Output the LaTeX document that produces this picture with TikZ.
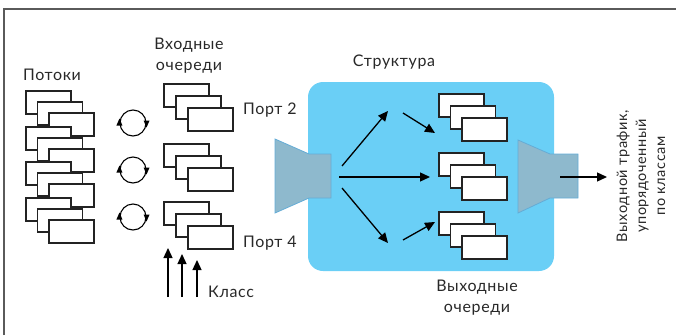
\documentclass[tikz,border=0pt]{standalone}
\usepackage{fontspec}
\setmainfont{Lato}[LetterSpace=4]
\usetikzlibrary{arrows.meta,calc}
\definecolor{panel}{RGB}{106,207,246}
\definecolor{funnelfill}{RGB}{142,185,205}
\definecolor{funneledge}{RGB}{100,172,214}
\definecolor{boxline}{RGB}{35,35,35}
\definecolor{frameline}{RGB}{90,90,90}
\definecolor{txt}{RGB}{40,40,40}

\tikzset{
  qbox/.style={draw=boxline, fill=white, line width=1.1pt, minimum width=45pt,
    minimum height=23pt, anchor=north west, inner sep=0pt, outer sep=0pt},
  flowarrow/.style={line width=1.3pt, draw=black,
    -{Triangle[length=10pt,width=9pt]}},
  cyclering/.style={circle, draw=black, line width=1.1pt, minimum size=26pt,
    inner sep=0pt},
  funnel/.style={fill=funnelfill, draw=funneledge, line width=0.8pt},
  lbl/.style={text=txt, inner sep=0pt, align=center}
}

% three overlapping queue boxes: name, x, y, step x, step y
\newcommand\boxtriple[5]{%
  \node[qbox] (#1a) at (#2,#3) {};
  \node[qbox] (#1b) at (#2+#4,#3+#5) {};
  \node[qbox] (#1c) at (#2+2*#4,#3+2*#5) {};
}

% a ring with a turning sense shown by two small heads
\newcommand\cyclemark[3]{%
  \node[cyclering] (#1) at (#2,#3) {};
  \fill (#1.west) ++(-3,2.5) -- ++(6,0) -- ++(-3,-7) -- cycle;
  \fill (#1.east) ++(-3,-2.5) -- ++(6,0) -- ++(-3,7) -- cycle;
}

\begin{document}
\begin{tikzpicture}[x=1pt, y=-1pt, font=\fontsize{16}{21}\selectfont]
\useasboundingbox (0,0) rectangle (676,335);

% outer frame (top and left edges)
\draw[frameline, line width=1.2pt] (4,335) -- (4,9) -- (676,9);

% incoming flows
\node[lbl] (flowtitle) at (52,75) {Потоки};
\boxtriple{fa}{26}{91}{11.5}{11}
\boxtriple{fb}{26}{127}{11.5}{11}
\boxtriple{fc}{26}{162}{11.5}{11}
\boxtriple{fd}{26}{198}{11.5}{11}

% scheduling rings
\cyclemark{ra}{133}{123}
\cyclemark{rb}{133}{170}
\cyclemark{rc}{133}{217}

% input queues
\node[lbl] (intitle) at (189,55.5) {Входные\\очереди};
\boxtriple{ia}{164}{84}{12}{12}
\boxtriple{ib}{164}{144}{12}{12}
\boxtriple{ic}{164}{202}{12}{12}
\node[lbl, anchor=west] (port2) at (243,110) {Порт 2};
\node[lbl, anchor=west] (port4) at (243,243) {Порт 4};

% class arrows
\coordinate (ka0) at (168,297); \coordinate (ka1) at (168,248);
\coordinate (kb0) at (182,297); \coordinate (kb1) at (182,254);
\coordinate (kc0) at (197,297); \coordinate (kc1) at (197,260);
\draw[flowarrow] (ka0) -- (ka1);
\draw[flowarrow] (kb0) -- (kb1);
\draw[flowarrow] (kc0) -- (kc1);
\node[lbl, anchor=west] (classlbl) at (208,292) {Класс};

% switching fabric
\node[lbl] (fabtitle) at (394,62) {Структура};
\fill[panel, rounded corners=15pt] (308,82) rectangle (554,271);
\draw[funnel] (275,139) -- (309,154) -- (331,154) -- (331,198) -- (309,198) -- (275,213) -- cycle;

\coordinate (s1) at (342,166); \coordinate (e1) at (388,111);
\coordinate (s2) at (339,177); \coordinate (e2) at (430,177);
\coordinate (s3) at (342,188); \coordinate (e3) at (388,243);
\coordinate (s4) at (403,113); \coordinate (e4) at (435,133);
\coordinate (s5) at (403,240); \coordinate (e5) at (435,222);
\draw[flowarrow] (s1) -- (e1);
\draw[flowarrow] (s2) -- (e2);
\draw[flowarrow] (s3) -- (e3);
\draw[flowarrow] (s4) -- (e4);
\draw[flowarrow] (s5) -- (e5);

% output queues
\boxtriple{oa}{439}{94}{11.5}{12}
\boxtriple{ob}{439}{153}{11.5}{12}
\boxtriple{oc}{439}{212}{11.5}{12}
\node[lbl] (outtitle) at (477,297.5) {Выходные\\очереди};

% output port
\draw[funnel] (518,140) -- (550,154) -- (578,154) -- (578,198) -- (550,198) -- (518,213) -- cycle;
\coordinate (os) at (560,177); \coordinate (oe) at (607,177);
\draw[flowarrow] (os) -- (oe);
\node[lbl, rotate=90, font=\fontsize{14.5}{19}\selectfont] (outlbl) at (641,176)
  {Выходной трафик,\\упорядоченный\\по классам};
\end{tikzpicture}
\end{document}
